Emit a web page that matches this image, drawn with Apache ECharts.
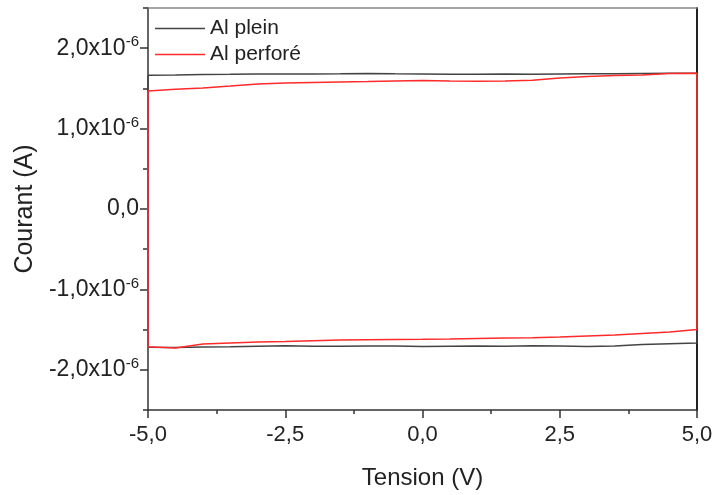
<!DOCTYPE html>
<html><head><meta charset="utf-8">
<script src="https://cdn.jsdelivr.net/npm/echarts@6/dist/echarts.min.js"></script>
<style>html,body{margin:0;padding:0;background:#fff}#c{width:716px;height:495px}</style>
</head><body><div id="c"></div>
<script>
// Voltage sampling (V)
const voltages = [-5,-4.5,-4,-3.5,-3,-2.5,-2,-1.5,-1,-0.5,0,0.5,1,1.5,2,2.5,3,3.5,4,4.5,5];
// Current (in 1e-6 A), forward (upper) and reverse (lower) branches
const pleinUpper = [1.663,1.667,1.673,1.675,1.679,1.679,1.679,1.681,1.685,1.681,1.679,1.675,1.675,1.679,1.677,1.679,1.681,1.681,1.686,1.688,1.688];
const pleinLower = [-1.720,-1.722,-1.716,-1.712,-1.707,-1.701,-1.707,-1.707,-1.704,-1.704,-1.710,-1.706,-1.704,-1.706,-1.701,-1.704,-1.710,-1.704,-1.685,-1.675,-1.667];
const perforeUpper = [1.469,1.490,1.506,1.530,1.556,1.568,1.574,1.580,1.586,1.593,1.599,1.593,1.589,1.593,1.600,1.630,1.648,1.660,1.667,1.685,1.688];
const perforeLower = [-1.712,-1.728,-1.679,-1.667,-1.654,-1.648,-1.638,-1.630,-1.626,-1.623,-1.621,-1.617,-1.611,-1.605,-1.601,-1.593,-1.580,-1.568,-1.549,-1.531,-1.498];
const seriesNames = ['Al plein','Al perforé'];
const yTickValues = [-2e-6,-1e-6,0,1e-6,2e-6];
const yTickLabels = ['-2,0x10','-1,0x10','0,0','1,0x10','2,0x10'];
const xTickValues = [-5,-2.5,0,2.5,5];
const xTickLabels = ['-5,0','-2,5','0,0','2,5','5,0'];

function loop(upper, lower){
  const pts = [];
  for (let i=0;i<voltages.length;i++) pts.push([voltages[i], upper[i]*1e-6]);
  for (let i=voltages.length-1;i>=0;i--) pts.push([voltages[i], lower[i]*1e-6]);
  pts.push([voltages[0], upper[0]*1e-6]);
  return pts;
}
const FONT = 'Liberation Sans, Arial, sans-serif';
const AX = '#333';
const chart = echarts.init(document.getElementById('c'), null, {renderer:'canvas'});
chart.setOption({
  animation:false,
  backgroundColor:'#fff',
  grid:{left:148,right:19,top:8,bottom:83,containLabel:false},
  legend:{
    orient:'vertical', left:150, top:13, icon:'rect', itemWidth:50, itemHeight:1.5, itemGap:5,
    textStyle:{fontFamily:FONT,fontSize:21,color:'#222',lineHeight:21},
    data:[{name:seriesNames[0],itemStyle:{color:'#444'}},{name:seriesNames[1],itemStyle:{color:'#ff2a2a'}}]
  },
  xAxis:[{
    type:'value', min:-5, max:5, interval:1.25,
    name:'Tension (V)', nameLocation:'middle', nameGap:56,
    nameTextStyle:{fontFamily:FONT,fontSize:24,color:'#222'},
    axisLine:{onZero:false,lineStyle:{color:AX,width:1.5}},
    axisTick:{show:true,length:8,customValues:xTickValues,lineStyle:{color:AX,width:1.5}},
    axisLabel:{fontFamily:FONT,fontSize:22,color:'#222',margin:14,
      customValues:xTickValues,
      formatter:function(v){const i=xTickValues.indexOf(v);return i>=0?xTickLabels[i]:'';}},
    splitLine:{show:false}
  },{
    type:'value', position:'top', min:-5, max:5,
    axisLine:{show:true,onZero:false,lineStyle:{color:'#888',width:1.5}},
    axisTick:{show:false}, axisLabel:{show:false}, splitLine:{show:false}
  },{
    type:'value', position:'bottom', min:-5, max:5, interval:1.25,
    axisLine:{show:false,onZero:false},
    axisTick:{show:true,length:4,lineStyle:{color:AX,width:1.5}},
    axisLabel:{show:false}, splitLine:{show:false}
  }],
  yAxis:[{
    type:'value', min:-2.5e-6, max:2.5e-6, interval:0.5e-6,
    name:'Courant (A)', nameLocation:'middle', nameGap:107, nameRotate:90,
    nameTextStyle:{fontFamily:FONT,fontSize:25,color:'#222'},
    axisLine:{onZero:false,lineStyle:{color:AX,width:1.5}},
    axisTick:{show:true,length:8,customValues:yTickValues,lineStyle:{color:AX,width:1.5}},
    axisLabel:{fontFamily:FONT,fontSize:23,color:'#222',margin:9,
      customValues:yTickValues,
      formatter:function(v){
        let i=-1; for(let k=0;k<yTickValues.length;k++){ if(Math.abs(yTickValues[k]-v)<1e-12) i=k; }
        if(i<0) return '';
        if(yTickValues[i]===0) return '{b|'+yTickLabels[i]+'}';
        return '{b|'+yTickLabels[i]+'}{s|-6}';
      },
      rich:{
        b:{fontFamily:FONT,fontSize:23,color:'#222',lineHeight:27},
        s:{fontFamily:FONT,fontSize:15,color:'#222',verticalAlign:'top',lineHeight:15}
      }},
    splitLine:{show:false}
  },{
    type:'value', position:'right', min:-2.5e-6, max:2.5e-6,
    axisLine:{show:true,onZero:false,lineStyle:{color:'#222',width:2}},
    axisTick:{show:false}, axisLabel:{show:false}, splitLine:{show:false}
  },{
    type:'value', position:'left', min:-2.5e-6, max:2.5e-6, interval:0.5e-6,
    axisLine:{show:false,onZero:false},
    axisTick:{show:true,length:5,lineStyle:{color:AX,width:1.5}},
    axisLabel:{show:false}, splitLine:{show:false}
  }],
  series:[{
    name:seriesNames[0], type:'line', symbol:'none', data:loop(pleinUpper,pleinLower),
    lineStyle:{color:'#444',width:1.5}, itemStyle:{color:'#444'}, z:2
  },{
    name:seriesNames[1], type:'line', symbol:'none', data:loop(perforeUpper,perforeLower),
    lineStyle:{color:'#ff2a2a',width:1.5}, itemStyle:{color:'#ff2a2a'}, z:3
  }]
});
</script></body></html>
